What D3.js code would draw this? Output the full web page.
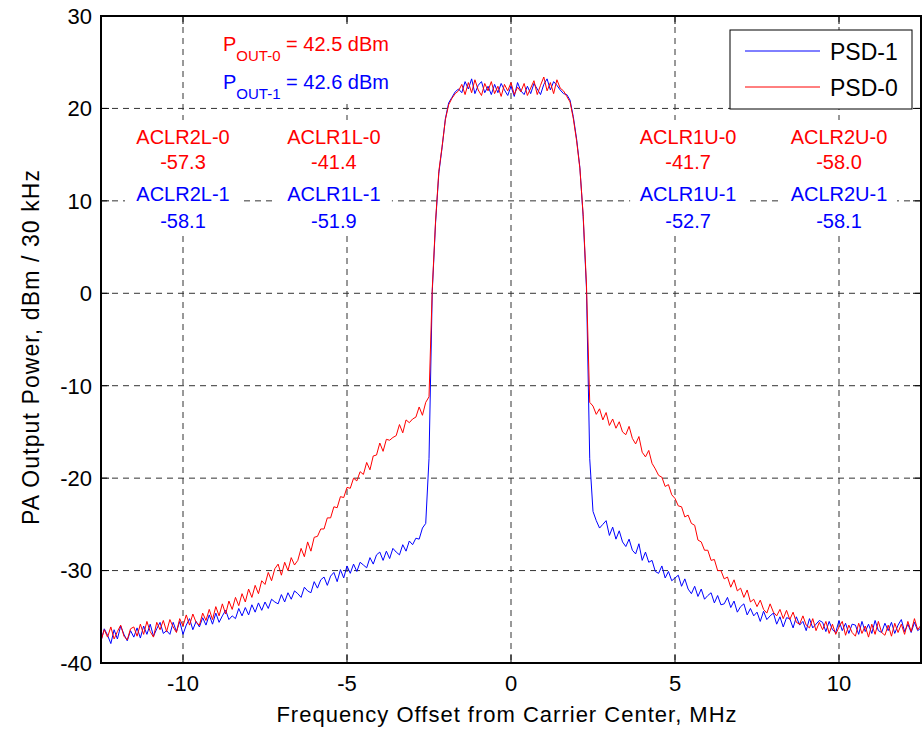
<!DOCTYPE html>
<html lang="en">
<head>
<meta charset="utf-8">
<title>PA Output PSD</title>
<script src="https://cdn.jsdelivr.net/npm/d3@7"></script>
<style>
body { margin: 0; background: #fff; }
text { font-family: "Liberation Sans", Arial, sans-serif; }
.grid line { stroke: #333; stroke-width: 1; stroke-dasharray: 6,5; }
.frame { fill: none; stroke: #000; stroke-width: 2; }
.tick-mark { stroke: #000; stroke-width: 1; }
.psd { fill: none; stroke-width: 1; }
</style>
</head>
<body>
<script>
// sampled spectrum, -12.5 MHz .. 12.5 MHz every 0.1 MHz
var freqStart = -12.5, freqStep = 0.1;

// PSD-1 (blue), dBm / 30 kHz
var psd1 = [
 -37.6, -36.3, -37.0, -37.9, -36.4, -37.4, -36.0, -36.9, -37.6, -36.5,
 -37.2, -36.2, -37.3, -36.0, -36.9, -35.8, -37.1, -36.3, -35.6, -36.8,
 -36.5, -36.9, -35.6, -36.6, -35.5, -36.9, -35.9, -35.2, -36.4, -35.5,
 -36.1, -35.1, -35.9, -34.8, -35.8, -34.6, -35.6, -34.9, -34.3, -35.3,
 -34.9, -35.2, -34.1, -34.9, -34.0, -34.8, -33.7, -34.5, -33.5, -34.3,
 -33.4, -34.1, -33.1, -33.4, -33.6, -32.6, -33.4, -32.4, -33.1, -32.2,
 -32.5, -32.9, -31.8, -32.2, -32.4, -31.2, -31.9, -31.0, -30.7, -31.6,
 -30.6, -30.2, -31.2, -29.9, -30.8, -29.5, -30.3, -29.3, -30.1, -29.1,
 -29.4, -29.7, -28.6, -29.3, -28.3, -28.0, -28.9, -27.9, -28.7, -27.6,
 -28.0, -28.3, -27.2, -27.9, -26.8, -27.2, -26.5, -26.6, -25.4, -24.9,
 -17.9, 0.2, 7.6, 13.0, 15.8, 18.9, 20.6, 21.2, 21.8, 22.1,
 21.7, 22.9, 22.1, 23.2, 21.6, 22.5, 22.9, 21.7, 22.4, 21.5,
 22.6, 21.7, 22.7, 22.0, 21.4, 22.4, 21.3, 22.8, 21.9, 21.5,
 22.4, 21.6, 22.7, 22.1, 21.5, 22.6, 23.2, 22.0, 22.9, 22.5,
 22.0, 21.6, 21.5, 20.9, 19.1, 16.7, 13.6, 8.3, 0.6, -17.9,
 -23.6, -24.6, -25.4, -25.0, -24.6, -26.2, -25.3, -26.6, -25.7, -26.9,
 -27.4, -26.6, -27.8, -28.2, -27.1, -28.9, -28.0, -29.1, -28.9, -30.1,
 -30.3, -29.5, -30.8, -30.1, -31.1, -30.8, -30.5, -31.7, -30.9, -32.0,
 -32.5, -31.7, -32.8, -32.0, -33.1, -32.7, -32.4, -33.5, -32.7, -33.7,
 -33.6, -32.9, -34.0, -33.3, -34.5, -33.9, -33.6, -34.8, -34.1, -34.9,
 -34.5, -35.5, -34.4, -35.3, -34.9, -34.6, -35.8, -35.0, -36.1, -35.1,
 -35.2, -36.2, -35.0, -35.9, -35.5, -36.5, -35.2, -36.2, -35.8, -35.4,
 -35.6, -36.6, -35.5, -36.4, -36.7, -35.4, -36.5, -35.7, -36.8, -35.8,
 -35.9, -36.9, -35.5, -36.6, -35.8, -36.8, -35.4, -36.5, -36.7, -35.7,
 -36.5, -35.6, -36.8, -35.9, -35.3, -36.6, -35.8, -36.7, -35.6, -36.5,
 -36.2
];

// PSD-0 (red), dBm / 30 kHz
var psd0 = [
 -37.6, -36.4, -37.2, -36.1, -37.4, -36.6, -35.9, -37.1, -37.5, -36.3,
 -36.1, -37.1, -35.8, -36.9, -35.5, -36.6, -37.2, -35.6, -36.4, -35.4,
 -36.6, -35.3, -36.1, -36.7, -35.2, -36.0, -34.8, -35.9, -34.7, -35.6,
 -35.9, -34.6, -35.4, -34.2, -35.3, -33.9, -34.9, -33.6, -34.7, -33.3,
 -34.2, -32.9, -33.8, -32.5, -33.4, -32.0, -32.9, -31.6, -32.5, -31.1,
 -31.5, -30.2, -31.1, -29.8, -29.3, -30.5, -29.1, -30.0, -28.6, -29.4,
 -28.9, -27.6, -28.5, -26.9, -27.9, -26.4, -26.3, -25.5, -25.5, -24.3,
 -24.3, -23.1, -23.2, -22.0, -22.1, -21.0, -21.1, -20.0, -20.3, -19.3,
 -19.6, -18.3, -19.1, -17.6, -17.5, -16.2, -17.1, -15.8, -15.9, -15.6,
 -15.4, -14.2, -15.1, -13.7, -14.0, -13.6, -13.4, -12.3, -13.2, -11.8,
 -11.2, 0.5, 7.8, 13.2, 15.9, 18.8, 20.4, 21.1, 21.6, 21.9,
 22.6, 21.5, 22.8, 21.7, 23.1, 22.0, 21.4, 22.7, 21.9, 22.9,
 21.6, 22.4, 21.3, 22.6, 21.9, 22.8, 21.5, 22.3, 21.8, 22.7,
 21.4, 22.2, 23.0, 21.5, 22.5, 23.4, 21.9, 22.8, 21.6, 23.1,
 22.2, 21.9, 21.3, 20.7, 18.9, 16.5, 13.5, 8.5, 1.0, -11.8,
 -12.2, -13.1, -12.5, -13.7, -12.9, -14.3, -13.6, -14.6, -13.9, -15.0,
 -15.3, -14.4, -15.7, -16.3, -15.5, -17.2, -17.7, -17.0, -18.4, -19.0,
 -19.7, -19.9, -20.9, -20.7, -21.8, -22.2, -23.0, -23.1, -24.2, -24.0,
 -24.9, -25.1, -26.7, -26.9, -27.8, -27.8, -28.9, -28.8, -30.0, -30.0,
 -30.9, -30.7, -31.8, -31.0, -32.2, -31.9, -32.9, -32.1, -33.4, -33.1,
 -33.9, -33.2, -34.2, -34.6, -33.6, -34.5, -34.9, -34.2, -35.2, -34.3,
 -35.3, -34.5, -35.6, -35.8, -34.9, -35.9, -36.2, -35.2, -36.5, -35.6,
 -36.4, -35.5, -36.8, -35.8, -36.9, -36.1, -35.5, -37.0, -35.9, -36.7,
 -37.1, -35.7, -36.8, -36.0, -37.2, -35.8, -36.9, -35.5, -36.7, -37.0,
 -35.9, -37.1, -35.7, -36.7, -35.8, -36.9, -35.5, -36.6, -35.2, -36.4,
 -35.9
];

var xTicks = [-10, -5, 0, 5, 10];
var yTicks = [-40, -30, -20, -10, 0, 10, 20, 30];

var aclrNames0 = ["ACLR2L-0", "ACLR1L-0", "ACLR1U-0", "ACLR2U-0"];
var aclrVals0  = ["-57.3", "-41.4", "-41.7", "-58.0"];
var aclrNames1 = ["ACLR2L-1", "ACLR1L-1", "ACLR1U-1", "ACLR2U-1"];
var aclrVals1  = ["-58.1", "-51.9", "-52.7", "-58.1"];
var aclrFreq   = [-10, -5.4, 5.4, 10];

var poutSubs = ["OUT-0", "OUT-1"];
var poutVals = ["42.5", "42.6"];

var seriesNames = ["PSD-1", "PSD-0"];
var seriesColors = ["#0000ff", "#ff0000"];

var w = 922, h = 729;
var pL = 101, pT = 16, pR = 921, pB = 663;

var svg = d3.select("body").append("svg")
    .attr("width", w)
    .attr("height", h);

var x = d3.scaleLinear().domain([-12.5, 12.5]).range([pL, pR]);
var y = d3.scaleLinear().domain([-40, 30]).range([pB, pT]);

// grid
var grid = svg.append("g").attr("class", "grid");
grid.selectAll(".gx").data(xTicks).enter().append("line")
    .attr("x1", d => x(d)).attr("x2", d => x(d))
    .attr("y1", pT).attr("y2", pB);
grid.selectAll(".gy").data(yTicks.slice(1, -1)).enter().append("line")
    .attr("x1", pL).attr("x2", pR)
    .attr("y1", d => y(d)).attr("y2", d => y(d));

// white backgrounds behind the annotation texts (they hide the grid)
svg.append("rect").attr("x", 212).attr("y", 26).attr("width", 190).attr("height", 76)
   .attr("fill", "#fff");
aclrFreq.forEach(function(f){
    svg.append("rect")
       .attr("x", x(f) - 58).attr("y", 120)
       .attr("width", 116).attr("height", 116)
       .attr("fill", "#fff");
});

// curves
svg.append("clipPath").attr("id", "clip")
  .append("rect").attr("x", pL).attr("y", pT)
  .attr("width", pR - pL).attr("height", pB - pT);

var line = d3.line()
    .x((d, i) => x(freqStart + i * freqStep))
    .y(d => y(d));

[psd1, psd0].forEach(function(s, k){
    svg.append("path")
       .attr("class", "psd")
       .attr("clip-path", "url(#clip)")
       .attr("stroke", seriesColors[k])
       .attr("d", line(s));
});

// inner tick marks on all four sides
var tk = 8;
xTicks.forEach(function(d){
    svg.append("line").attr("class", "tick-mark")
       .attr("x1", x(d)).attr("x2", x(d)).attr("y1", pB).attr("y2", pB - tk);
    svg.append("line").attr("class", "tick-mark")
       .attr("x1", x(d)).attr("x2", x(d)).attr("y1", pT).attr("y2", pT + tk);
});
yTicks.forEach(function(d){
    svg.append("line").attr("class", "tick-mark")
       .attr("x1", pL).attr("x2", pL + tk).attr("y1", y(d)).attr("y2", y(d));
    svg.append("line").attr("class", "tick-mark")
       .attr("x1", pR).attr("x2", pR - tk).attr("y1", y(d)).attr("y2", y(d));
});

svg.append("rect").attr("class", "frame")
   .attr("x", pL).attr("y", pT)
   .attr("width", pR - pL).attr("height", pB - pT);

// tick labels
svg.selectAll(".xl").data(xTicks).enter().append("text")
   .attr("x", d => x(d))
   .attr("y", 691)
   .attr("text-anchor", "middle")
   .attr("font-size", 22)
   .text(d => d);
svg.selectAll(".yl").data(yTicks).enter().append("text")
   .attr("x", 92)
   .attr("y", d => y(d))
   .attr("dy", "0.36em")
   .attr("text-anchor", "end")
   .attr("font-size", 22)
   .text(d => d);

// axis titles
svg.append("text")
   .attr("x", 507)
   .attr("y", 722)
   .attr("text-anchor", "middle")
   .attr("font-size", 22)
   .attr("letter-spacing", 1.0)
   .text("Frequency Offset from Carrier Center, MHz");
svg.append("text")
   .attr("transform", "translate(39,347) rotate(-90)")
   .attr("text-anchor", "middle")
   .attr("font-size", 23)
   .attr("letter-spacing", 1.1)
   .text("PA Output Power, dBm / 30 kHz");

// Pout annotations
var poutColors = [seriesColors[1], seriesColors[0]];
poutSubs.forEach(function(s, k){
    var t = svg.append("text")
        .attr("x", 223)
        .attr("y", 51 + k * 38)
        .attr("font-size", 20)
        .attr("fill", poutColors[k]);
    t.append("tspan").text("P");
    t.append("tspan").attr("font-size", 15).attr("dy", 10).text(s);
    t.append("tspan").attr("dy", -10).text(" = " + poutVals[k] + " dBm");
});

// ACLR annotations
function aclrRow(labels, color, yy){
    svg.selectAll(null).data(labels).enter().append("text")
       .attr("x", (d, i) => x(aclrFreq[i]))
       .attr("y", yy)
       .attr("text-anchor", "middle")
       .attr("font-size", 20)
       .attr("fill", color)
       .text(d => d);
}
aclrRow(aclrNames0, seriesColors[1], 144);
aclrRow(aclrVals0, seriesColors[1], 169);
aclrRow(aclrNames1, seriesColors[0], 201);
aclrRow(aclrVals1, seriesColors[0], 228);

// legend
var lg = svg.append("g");
lg.append("rect")
  .attr("x", 730).attr("y", 30).attr("width", 182).attr("height", 79)
  .attr("fill", "#fff").attr("stroke", "#000").attr("stroke-width", 1);
seriesNames.forEach(function(n, k){
    var yy = 51 + k * 36;
    lg.append("line")
      .attr("x1", 745).attr("x2", 820).attr("y1", yy).attr("y2", yy)
      .attr("stroke", seriesColors[k]).attr("stroke-width", 1);
    lg.append("text")
      .attr("x", 830).attr("y", yy + 9)
      .attr("font-size", 23)
      .text(n);
});
</script>
</body>
</html>
